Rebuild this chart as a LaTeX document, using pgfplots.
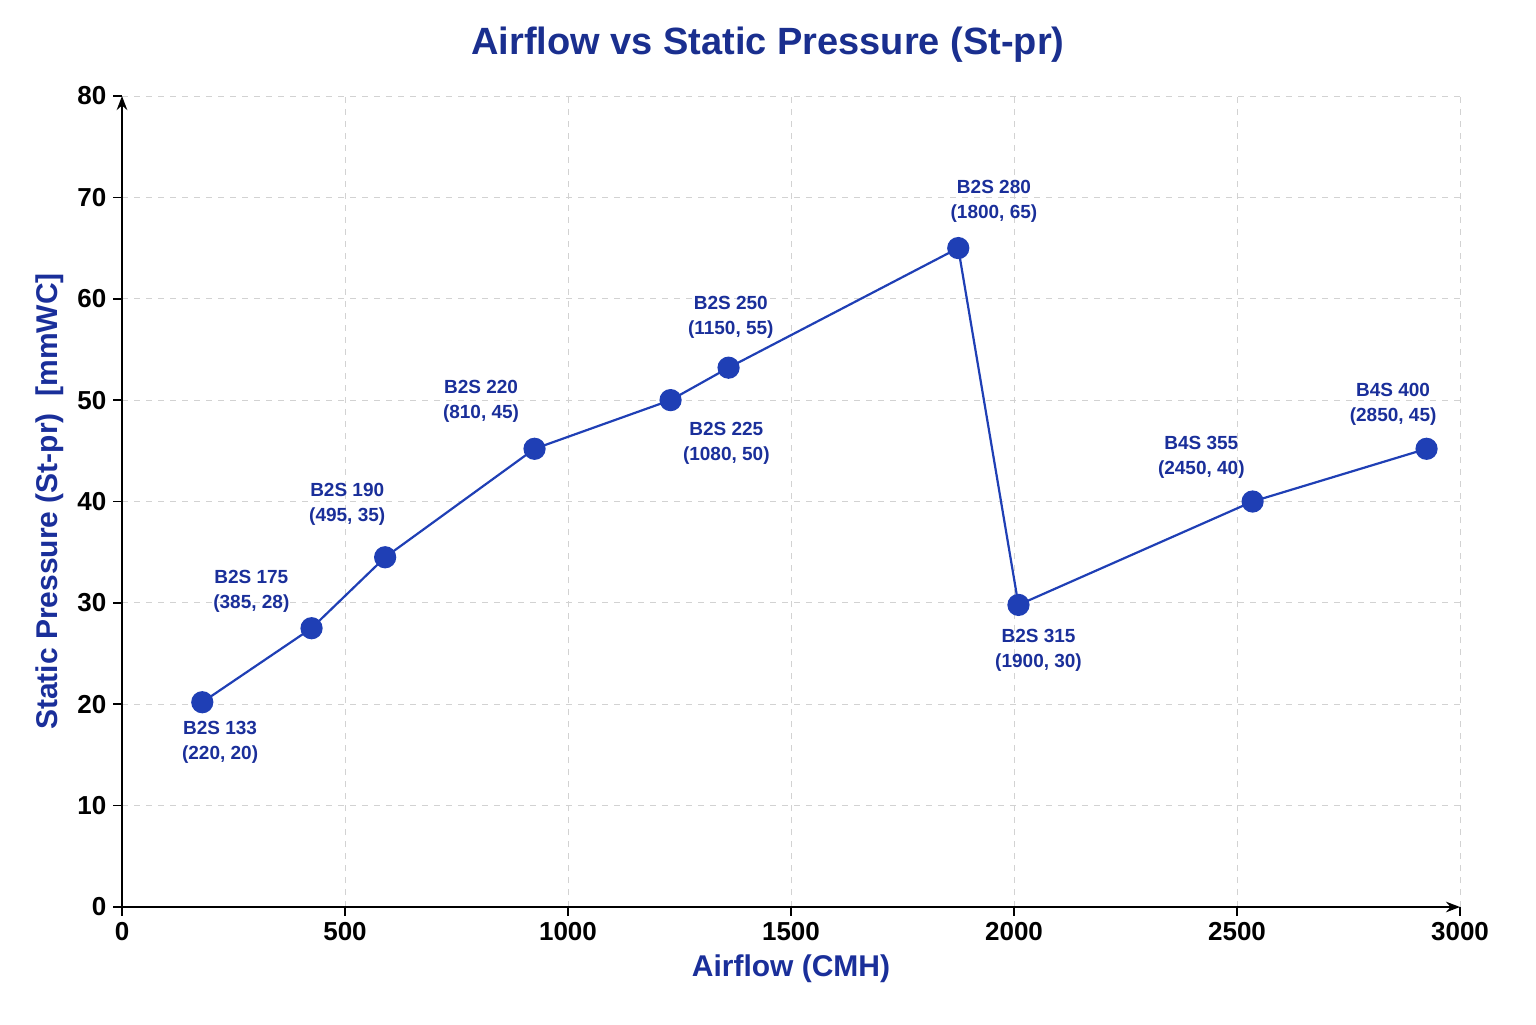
\documentclass[border=0pt]{standalone}
\usepackage{pgfplots}
\pgfplotsset{compat=1.18}
\usetikzlibrary{arrows.meta}
\usepackage{fontspec}
\setmainfont{Liberation Sans}
\definecolor{tblue}{HTML}{1A2F8F}
\definecolor{lblue}{HTML}{1F3FB5}
\definecolor{ablue}{HTML}{1A2F9A}
\begin{document}
\begin{tikzpicture}[x=0.5pt,y=0.5pt]
\path (0,0) rectangle (1536,1024);
\node[font=\bfseries\fontsize{19}{22}\selectfont,text=tblue] at (768,979) {Airflow vs Static Pressure (St-pr)};
\begin{axis}[at={(61pt,58.5pt)},anchor=origin,scale only axis,
 width=669pt,height=405.5pt,
 xmin=0,xmax=3000,ymin=0,ymax=80,
 axis lines=left,
 axis line style={line width=1.2pt,-{Stealth[length=7pt]}},
 xtick={0,500,...,3000},ytick={0,10,...,80},
 grid=major,grid style={dashed,gray!35},
 tick style={black,line width=0.8pt},
 tick align=outside,
 ticklabel style={font=\bfseries\fontsize{13}{15}\selectfont},
 /pgf/number format/assume math mode=true,
 /pgf/number format/1000 sep={},
 xlabel={Airflow (CMH)},ylabel={Static Pressure (St-pr)\ \ [mmWC]},
 label style={font=\bfseries\fontsize{15}{18}\selectfont,text=ablue},
 clip=false]
\addplot[lblue,line width=1.1pt,mark=*,mark size=5pt,mark options={fill=lblue,draw=lblue}] coordinates {
(180,20.2)(425,27.5)(590,34.5)(925,45.2)(1230,50)(1360,53.2)(1875,65)(2010,29.8)(2535,40)(2925,45.2)};
\tikzset{lab/.style={font=\bfseries\fontsize{9.5}{12.5}\selectfont,text=ablue,align=center}}
\node[lab] at (axis cs:220,16.2) {B2S 133\\(220, 20)};
\node[lab] at (axis cs:290,31.1) {B2S 175\\(385, 28)};
\node[lab] at (axis cs:505,39.7) {B2S 190\\(495, 35)};
\node[lab] at (axis cs:805,49.9) {B2S 220\\(810, 45)};
\node[lab] at (axis cs:1355,45.7) {B2S 225\\(1080, 50)};
\node[lab] at (axis cs:1365,58.2) {B2S 250\\(1150, 55)};
\node[lab] at (axis cs:1955,69.6) {B2S 280\\(1800, 65)};
\node[lab] at (axis cs:2055,25.3) {B2S 315\\(1900, 30)};
\node[lab] at (axis cs:2420,44.4) {B4S 355\\(2450, 40)};
\node[lab] at (axis cs:2850,49.6) {B4S 400\\(2850, 45)};
\end{axis}
\end{tikzpicture}
\end{document}
